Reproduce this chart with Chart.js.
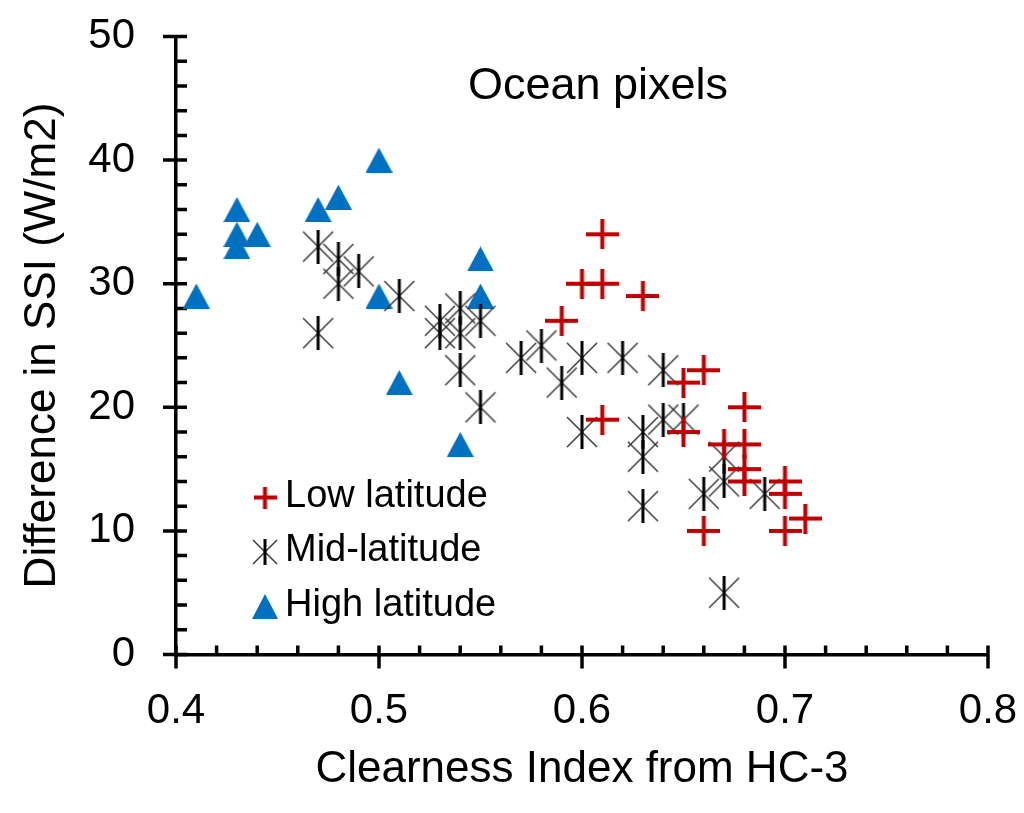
<!DOCTYPE html>
<html>
<head>
<meta charset="utf-8">
<title>Ocean pixels</title>
<script src="https://cdn.jsdelivr.net/npm/chart.js@4.4.1/dist/chart.umd.min.js"></script>
<style>
  html, body { margin: 0; padding: 0; background: #fff; }
  canvas { display: block; }
</style>
</head>
<body>
<canvas id="chart" width="1024" height="813"></canvas>
<script>
// data
const lowX  = [0.59, 0.60, 0.61, 0.61, 0.61, 0.63, 0.65, 0.65, 0.66, 0.66, 0.67, 0.68, 0.68, 0.68, 0.68, 0.70, 0.70, 0.70, 0.71];
const lowY  = [27,   30,   30,   34,   19,   29,   22,   18,   23,   10,   17,   20,   17,   15,   14,   14,   13,   10,   11];

const midX  = [0.47, 0.47, 0.48, 0.48, 0.49, 0.51, 0.53, 0.53, 0.54, 0.54, 0.54, 0.55, 0.55, 0.57, 0.58,
               0.59, 0.60, 0.60, 0.62, 0.63, 0.63, 0.63, 0.64, 0.64, 0.65, 0.66, 0.67, 0.67, 0.67, 0.69];
const midY  = [33,   26,   32,   30,   31,   29,   27,   26,   28,   26,   23,   27,   20,   24,   25,
               22,   24,   18,   24,   18,   16,   12,   23,   19,   19,   13,   16,   14,   5,    13];

const highX = [0.41, 0.43, 0.43, 0.43, 0.44, 0.47, 0.48, 0.50, 0.50, 0.51, 0.54, 0.55, 0.55];
const highY = [29,   36,   34,   33,   34,   36,   37,   40,   29,   22,   17,   32,   29];

const seriesNames = ['Low latitude', 'Mid-latitude', 'High latitude'];
const xTickLabels = ['0.4', '0.5', '0.6', '0.7', '0.8'];
const yTickLabels = ['0', '10', '20', '30', '40', '50'];

const RED = '#C00000';
const BLUE = '#0070C0';
const FONT = '"Liberation Sans", Arial, sans-serif';

// Excel-like marker images (canvas pointStyle)
function markerCanvas(w, h, draw) {
  const c = document.createElement('canvas');
  c.width = w; c.height = h;
  const g = c.getContext('2d');
  draw(g, w, h);
  return c;
}

function plusMarker(w, h, lw) {
  return markerCanvas(w, h, (g) => {
    g.strokeStyle = RED;
    g.lineWidth = lw;
    g.beginPath();
    g.moveTo(0, h / 2); g.lineTo(w, h / 2);
    g.moveTo(w / 2, 0); g.lineTo(w / 2, h);
    g.stroke();
  });
}

// asterisk = diagonal cross + vertical bar (no horizontal bar)
function starMarker(s, d) {
  return markerCanvas(s, s, (g) => {
    const c = s / 2;
    g.strokeStyle = '#3a3a3a';
    g.lineWidth = 1.5;
    g.beginPath();
    g.moveTo(c - d, c - d); g.lineTo(c + d, c + d);
    g.moveTo(c + d, c - d); g.lineTo(c - d, c + d);
    g.stroke();
    g.strokeStyle = '#000';
    g.lineWidth = 3;
    g.beginPath();
    g.moveTo(c, 0); g.lineTo(c, s);
    g.stroke();
  });
}

function triMarker(w, h) {
  return markerCanvas(w, h, (g) => {
    g.fillStyle = BLUE;
    g.beginPath();
    g.moveTo(w / 2, 0); g.lineTo(w, h); g.lineTo(0, h);
    g.closePath();
    g.fill();
  });
}

const plotMarkers = [plusMarker(33, 30, 4), starMarker(34, 15), triMarker(27, 25)];
const legendMarkers = [plusMarker(23, 22, 4), starMarker(26, 12), triMarker(26, 25)];

const toPoints = (xs, ys) => xs.map((x, i) => ({ x, y: ys[i] }));

// inside minor ticks, crossing major ticks (Excel style)
const axisTicks = {
  id: 'axisTicks',
  beforeDatasetsDraw(chart) {
    const { ctx, chartArea } = chart;
    const { left, bottom } = chartArea;
    const xs = chart.scales.x, ys = chart.scales.y;
    ctx.save();
    ctx.strokeStyle = '#000';
    ctx.lineWidth = 3.5;
    ctx.lineCap = 'butt';
    ctx.beginPath();
    const xv = xs.ticks.map(t => t.value);
    xv.forEach((v, i) => {
      const px = xs.getPixelForValue(v);
      ctx.moveTo(px, bottom - 9); ctx.lineTo(px, bottom + 14);
      if (i < xv.length - 1) {
        for (let k = 1; k < 5; k++) {
          const m = xs.getPixelForValue(v + (xv[i + 1] - v) * k / 5);
          ctx.moveTo(m, bottom - 9); ctx.lineTo(m, bottom);
        }
      }
    });
    const yv = ys.ticks.map(t => t.value);
    yv.forEach((v, i) => {
      const py = ys.getPixelForValue(v);
      ctx.moveTo(left - 13, py); ctx.lineTo(left + 11, py);
      if (i < yv.length - 1) {
        for (let k = 1; k < 5; k++) {
          const m = ys.getPixelForValue(v + (yv[i + 1] - v) * k / 5);
          ctx.moveTo(left, m); ctx.lineTo(left + 11, m);
        }
      }
    });
    ctx.stroke();
    ctx.restore();
  },
};

// "Ocean pixels" label and the legend sit inside the plot area
const insideText = {
  id: 'insideText',
  afterDatasetsDraw(chart) {
    const { ctx, chartArea } = chart;
    ctx.save();
    ctx.fillStyle = '#000';
    ctx.textBaseline = 'middle';
    ctx.font = `45px ${FONT}`;
    ctx.textAlign = 'center';
    ctx.fillText('Ocean pixels', chartArea.left + 422, chartArea.top + 50);

    ctx.font = `38px ${FONT}`;
    ctx.textAlign = 'left';
    chart.data.datasets.forEach((ds, i) => {
      const cy = chartArea.top + 460 + i * 54.5;
      const img = legendMarkers[i];
      ctx.drawImage(img, chartArea.left + 89 - img.width / 2, cy + 1 - img.height / 2);
      ctx.fillText(ds.label, chartArea.left + 109, cy);
    });
    ctx.restore();
  },
};

Chart.defaults.font.family = FONT;
Chart.defaults.color = '#000';

new Chart(document.getElementById('chart'), {
  type: 'scatter',
  data: {
    datasets: [
      { label: seriesNames[0], data: toPoints(lowX, lowY), pointStyle: plotMarkers[0] },
      { label: seriesNames[1], data: toPoints(midX, midY), pointStyle: plotMarkers[1] },
      { label: seriesNames[2], data: toPoints(highX, highY), pointStyle: plotMarkers[2] },
    ],
  },
  options: {
    animation: false,
    responsive: false,
    maintainAspectRatio: false,
    layout: { padding: { top: 36.5, right: 36, left: 0, bottom: 0 } },
    scales: {
      x: {
        type: 'linear',
        min: 0.4, max: 0.8,
        afterFit(s) { s.height = 158.5; s.paddingLeft = 0; s.paddingRight = 0; },
        grid: { display: false, drawTicks: false },
        border: { display: true, color: '#000', width: 3.5 },
        ticks: {
          stepSize: 0.1,
          padding: 32,
          font: { size: 42 },
          maxRotation: 0,
          callback: (v) => xTickLabels[Math.round((v - 0.4) * 10)],
        },
        title: {
          display: true,
          text: 'Clearness Index from HC-3',
          font: { size: 44 },
          padding: { top: 0, bottom: 17 },
        },
      },
      y: {
        type: 'linear',
        min: 0, max: 50,
        afterFit(s) { s.width = 176; s.paddingTop = 0; s.paddingBottom = 0; },
        grid: { display: false, drawTicks: false },
        border: { display: true, color: '#000', width: 3.5 },
        ticks: {
          stepSize: 10,
          padding: 41,
          font: { size: 42 },
          callback: (v) => yTickLabels[Math.round(v / 10)],
        },
        title: {
          display: true,
          text: 'Difference in SSI (W/m2)',
          font: { size: 44 },
          padding: { top: 16, bottom: 0 },
        },
      },
    },
    plugins: {
      legend: { display: false },
      tooltip: { enabled: false },
    },
  },
  plugins: [axisTicks, insideText],
});
</script>
</body>
</html>
